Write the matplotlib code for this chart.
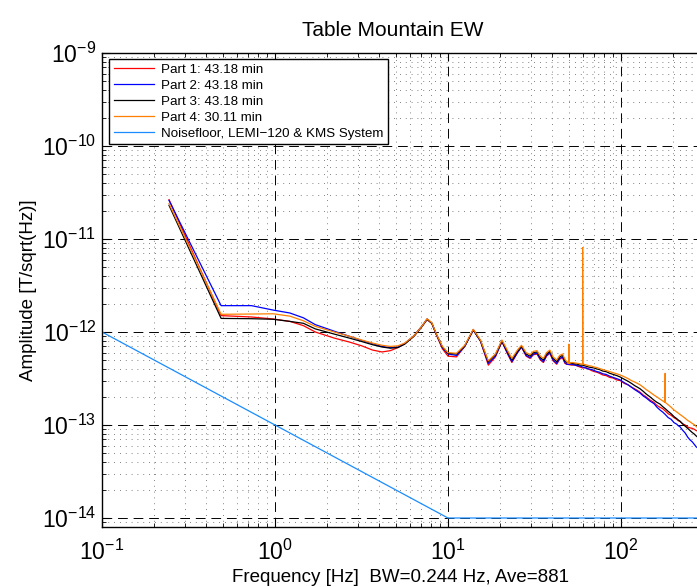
import numpy as np
import matplotlib
matplotlib.use("Agg")
import matplotlib.pyplot as plt
from matplotlib.ticker import LogLocator, NullFormatter, FixedLocator

plt.rcParams['font.family'] = ['Liberation Sans', 'DejaVu Sans']
plt.rcParams['mathtext.fontset'] = 'custom'
plt.rcParams['mathtext.rm'] = 'Liberation Sans'
plt.rcParams['mathtext.it'] = 'Liberation Sans:italic'
plt.rcParams['mathtext.bf'] = 'Liberation Sans:bold'

# ---------------- data ----------------
freq_lo = [0.244, 0.488, 0.732, 0.977, 1.22, 1.46, 1.71, 2.20, 2.69, 3.17, 3.66,
           4.15, 4.64, 5.13, 5.62, 6.35, 7.08, 7.57, 8.06, 8.55, 9.28, 10.0, 11.2,
           12.5, 14.0, 15.4, 17.1, 18.8, 20.5, 22.0, 23.4, 25.2, 26.6, 28.3, 29.8,
           31.2, 32.7, 34.2, 35.6, 37.1, 38.8, 40.5, 42.5, 44.2, 45.9, 47.4, 48.6]

part1_lo = [2.65e-11, 1.50e-12, 1.45e-12, 1.38e-12, 1.30e-12, 1.17e-12, 1.00e-12, 8.6e-13, 7.8e-13, 7.1e-13, 6.4e-13,
            6.1e-13, 6.3e-13, 6.8e-13, 7.5e-13, 9.0e-13, 1.15e-12, 1.36e-12, 1.24e-12, 9.4e-13, 6.6e-13, 5.5e-13, 5.4e-13,
            7.0e-13, 1.06e-12, 8.0e-13, 4.4e-13, 5.4e-13, 7.9e-13, 5.9e-13, 4.7e-13, 6.0e-13, 6.9e-13, 5.5e-13, 5.2e-13,
            5.7e-13, 5.8e-13, 5.0e-13, 4.7e-13, 5.5e-13, 5.9e-13, 4.9e-13, 4.5e-13, 5.1e-13, 5.3e-13, 4.6e-13, 4.5e-13]
part2_lo = [2.60e-11, 1.92e-12, 1.92e-12, 1.72e-12, 1.60e-12, 1.42e-12, 1.20e-12, 1.02e-12, 9.0e-13, 8.1e-13, 7.5e-13,
            7.0e-13, 6.8e-13, 6.9e-13, 7.5e-13, 9.1e-13, 1.16e-12, 1.38e-12, 1.25e-12, 9.5e-13, 6.8e-13, 5.8e-13, 5.6e-13,
            7.0e-13, 1.05e-12, 8.0e-13, 4.6e-13, 5.5e-13, 7.9e-13, 6.0e-13, 4.8e-13, 6.0e-13, 6.9e-13, 5.6e-13, 5.3e-13,
            5.8e-13, 5.9e-13, 5.1e-13, 4.8e-13, 5.6e-13, 6.0e-13, 5.0e-13, 4.6e-13, 5.2e-13, 5.4e-13, 4.7e-13, 4.5e-13]
part3_lo = [2.30e-11, 1.40e-12, 1.39e-12, 1.37e-12, 1.30e-12, 1.24e-12, 1.08e-12, 9.5e-13, 8.6e-13, 7.9e-13, 7.3e-13,
            6.9e-13, 6.7e-13, 6.8e-13, 7.4e-13, 9.0e-13, 1.15e-12, 1.37e-12, 1.24e-12, 9.5e-13, 6.9e-13, 5.9e-13, 5.8e-13,
            7.1e-13, 1.05e-12, 8.1e-13, 4.8e-13, 5.7e-13, 8.0e-13, 6.2e-13, 5.0e-13, 6.2e-13, 7.0e-13, 5.8e-13, 5.5e-13,
            6.0e-13, 6.1e-13, 5.3e-13, 5.0e-13, 5.8e-13, 6.2e-13, 5.2e-13, 4.8e-13, 5.4e-13, 5.6e-13, 4.9e-13, 4.7e-13]
part4_lo = [2.40e-11, 1.55e-12, 1.56e-12, 1.57e-12, 1.48e-12, 1.32e-12, 1.15e-12, 1.00e-12, 9.0e-13, 8.2e-13, 7.6e-13,
            7.2e-13, 7.0e-13, 7.1e-13, 7.6e-13, 9.1e-13, 1.16e-12, 1.39e-12, 1.26e-12, 9.6e-13, 7.0e-13, 6.0e-13, 5.9e-13,
            7.2e-13, 1.07e-12, 8.2e-13, 4.9e-13, 5.8e-13, 8.2e-13, 6.4e-13, 5.2e-13, 6.4e-13, 7.2e-13, 6.0e-13, 5.7e-13,
            6.2e-13, 6.3e-13, 5.5e-13, 5.2e-13, 6.0e-13, 6.4e-13, 5.4e-13, 5.0e-13, 5.6e-13, 5.8e-13, 5.1e-13, 4.8e-13]

freq_hi = [52.0, 54.0, 56.0, 58.0, 60.0, 62.5, 65.0, 67.5, 70.0, 72.5, 75.0, 78.5, 82.0, 86.0,
           90.0, 94.5, 99.0, 104.5, 110.0, 115.0, 120.0, 124.5, 129.0, 134.5, 140.0, 147.5,
           155.0, 161.5, 168.0, 174.0, 180.0, 187.5, 195.0, 202.5, 210.0, 214.5, 219.0, 227.0,
           235.0, 243.0, 251.0, 258.0, 265.0, 272.5, 280.0, 290.0, 300.0]
part1_hi = [4.4e-13, 4.45e-13, 4.3e-13, 4.2e-13, 4.1e-13, 4.15e-13, 4.0e-13, 3.85e-13, 3.75e-13, 3.7e-13, 3.6e-13, 3.45e-13, 3.4e-13, 3.25e-13,
            3.2e-13, 3.05e-13, 3.0e-13, 2.8e-13, 2.7e-13, 2.55e-13, 2.45e-13, 2.35e-13, 2.25e-13, 2.1e-13, 2.0e-13, 1.85e-13,
            1.75e-13, 1.62e-13, 1.55e-13, 1.5e-13, 1.42e-13, 1.32e-13, 1.27e-13, 1.2e-13, 1.15e-13, 1.11e-13, 1.10e-13, 1.03e-13,
            1.0e-13, 9.5e-14, 9.3e-14, 9.2e-14, 9.0e-14, 8.7e-14, 8.6e-14, 8.2e-14, 7.8e-14]
part2_hi = [4.5e-13, 4.4e-13, 4.35e-13, 4.3e-13, 4.2e-13, 4.1e-13, 4.0e-13, 3.95e-13, 3.85e-13, 3.75e-13, 3.7e-13, 3.55e-13, 3.5e-13, 3.35e-13,
            3.25e-13, 3.15e-13, 3.05e-13, 2.85e-13, 2.7e-13, 2.55e-13, 2.4e-13, 2.3e-13, 2.2e-13, 2.05e-13, 1.95e-13, 1.8e-13,
            1.7e-13, 1.55e-13, 1.45e-13, 1.38e-13, 1.3e-13, 1.2e-13, 1.15e-13, 1.06e-13, 1.02e-13, 9.8e-14, 9.6e-14, 8.8e-14,
            8.2e-14, 7.4e-14, 6.9e-14, 6.6e-14, 6.2e-14, 5.8e-14, 5.6e-14, 5.2e-14, 4.9e-14]
part3_hi = [4.6e-13, 4.55e-13, 4.5e-13, 4.4e-13, 4.4e-13, 4.3e-13, 4.2e-13, 4.15e-13, 4.1e-13, 4.0e-13, 3.95e-13, 3.8e-13, 3.75e-13, 3.6e-13,
            3.5e-13, 3.4e-13, 3.28e-13, 3.1e-13, 2.95e-13, 2.8e-13, 2.65e-13, 2.55e-13, 2.45e-13, 2.3e-13, 2.15e-13, 2.0e-13,
            1.85e-13, 1.75e-13, 1.68e-13, 1.58e-13, 1.5e-13, 1.4e-13, 1.32e-13, 1.23e-13, 1.17e-13, 1.13e-13, 1.10e-13, 1.03e-13,
            9.7e-14, 9.2e-14, 8.7e-14, 8.3e-14, 8.0e-14, 7.6e-14, 7.3e-14, 6.8e-14, 6.4e-14]
part4_hi = [4.7e-13, 4.65e-13, 4.6e-13, 4.55e-13, 4.5e-13, 4.45e-13, 4.35e-13, 4.3e-13, 4.2e-13, 4.15e-13, 4.05e-13, 3.95e-13, 3.85e-13, 3.75e-13,
            3.65e-13, 3.55e-13, 3.45e-13, 3.3e-13, 3.15e-13, 3.0e-13, 2.9e-13, 2.8e-13, 2.7e-13, 2.55e-13, 2.4e-13, 2.25e-13,
            2.1e-13, 2.0e-13, 1.9e-13, 1.82e-13, 1.75e-13, 1.65e-13, 1.55e-13, 1.45e-13, 1.38e-13, 1.34e-13, 1.3e-13, 1.24e-13,
            1.18e-13, 1.12e-13, 1.08e-13, 1.04e-13, 1.01e-13, 9.6e-14, 9.3e-14, 8.9e-14, 8.5e-14]

# mains-hum spikes in Part 4 (frequency, peak amplitude, shoulder amplitude)
spike_freq = [50.0, 60.0, 180.0]
spike_peak = [7.4e-13, 8.1e-12, 3.6e-13]
spike_base = [4.6e-13, 4.5e-13, 1.75e-13]
spike_halfwidth = 0.244

noise_freq = [0.1, 10.0, 1000.0]
noise_amp = [1e-12, 1e-14, 1e-14]

labels = ['Part 1: 43.18 min', 'Part 2: 43.18 min', 'Part 3: 43.18 min',
          'Part 4: 30.11 min', 'Noisefloor, LEMI\u2212120 & KMS System']
colors = ['#ff0000', '#0000ff', '#000000', '#ff7f00', '#1a8cff']

# ---------------- build Part 4 with its spikes ----------------
f4 = list(freq_lo) + list(freq_hi)
a4 = list(part4_lo) + list(part4_hi)
for sf, sp, sb in zip(spike_freq, spike_peak, spike_base):
    f4 += [sf - spike_halfwidth, sf, sf + spike_halfwidth]
    a4 += [sb, sp, sb]
order = np.argsort(f4)
f4 = np.array(f4)[order]
a4 = np.array(a4)[order]

# ---------------- figure ----------------
W, H = 697, 587
fig = plt.figure(figsize=(W / 100, H / 100), dpi=100)
ax_left, ax_top, ax_bottom, ax_right = 102, 53, 527, 794
ax = fig.add_axes([ax_left / W, (H - ax_bottom) / H,
                   (ax_right - ax_left) / W, (ax_bottom - ax_top) / H])
ax.set_xscale('log')
ax.set_yscale('log')

lw = 0.9
ax.plot(np.concatenate([freq_lo, freq_hi]), np.concatenate([part1_lo, part1_hi]),
        color=colors[0], lw=lw, label=labels[0])
ax.plot(np.concatenate([freq_lo, freq_hi]), np.concatenate([part2_lo, part2_hi]),
        color=colors[1], lw=lw, label=labels[1])
ax.plot(np.concatenate([freq_lo, freq_hi]), np.concatenate([part3_lo, part3_hi]),
        color=colors[2], lw=lw, label=labels[2])
ax.plot(f4, a4, color=colors[3], lw=lw, label=labels[3])
ax.plot(noise_freq, noise_amp, color=colors[4], lw=lw, label=labels[4])

ax.set_xlim(0.1, 1000)
ax.set_ylim(10 ** (-14 - 9 / 93), 1e-9)

ax.xaxis.set_major_locator(FixedLocator([0.1, 1, 10, 100]))
ax.yaxis.set_major_locator(FixedLocator([1e-14, 1e-13, 1e-12, 1e-11, 1e-10, 1e-9]))
ax.xaxis.set_minor_locator(LogLocator(base=10, subs=np.arange(2, 10), numticks=100))
ax.yaxis.set_minor_locator(LogLocator(base=10, subs=np.arange(2, 10), numticks=100))
ax.xaxis.set_minor_formatter(NullFormatter())
ax.yaxis.set_minor_formatter(NullFormatter())

ax.tick_params(which='both', direction='in', top=True, right=True, labelsize=16.5)
ax.tick_params(which='major', length=6, width=0.8)
ax.tick_params(which='minor', length=3, width=0.6)
ax.tick_params(axis='x', pad=9)
ax.tick_params(axis='y', pad=4)

ax.set_axisbelow(True)
ax.grid(which='major', color='k', linestyle=(0, (10, 6)), linewidth=0.7)
ax.grid(which='minor', color='0.35', linestyle=(0, (1, 6)), linewidth=0.6)
for s in ax.spines.values():
    s.set_linewidth(1.0)

leg = ax.legend(loc='upper left', bbox_to_anchor=(7 / 692, 1 - 6 / 474),
                borderaxespad=0, fontsize=9.6, handlelength=3.0, handletextpad=0.55,
                labelspacing=0.27, borderpad=0.35, fancybox=False, framealpha=1,
                edgecolor='k')
leg.get_frame().set_linewidth(1.0)

fig.text(393 / W, 1 - 30 / H, 'Table Mountain EW', ha='center', va='center', fontsize=15)
fig.text(400 / W, 1 - 577 / H, 'Frequency [Hz]  BW=0.244 Hz, Ave=881',
         ha='center', va='center', fontsize=13.5)
fig.text(29 / W, 1 - 290 / H, 'Amplitude [T/sqrt(Hz)]', ha='center', va='center',
         rotation=90, fontsize=13.5)

fig.savefig('out.png', dpi=100)
